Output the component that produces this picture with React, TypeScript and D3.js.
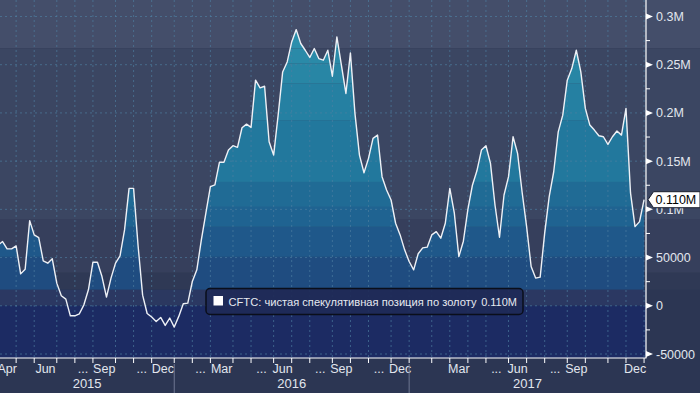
import React from "react";
import * as d3 from "d3";

// weekly CFTC reports (Friday release), net speculative gold position
const firstReport = "2015-04-03";
const netPosition = [
  63000, 66600, 59000, 59000, 62100, 33100, 38000, 88300, 73500, 70700,
  46600, 44200, 48700, 23500, 10400, 6900, -10400, -10400, -8300, 1000,
  16600, 45200, 45200, 30300, 9000, 28700, 44200, 51800, 78700, 121800,
  121800, 62000, 11000, -8000, -11700, -16200, -12100, -20400, -12700, -22100,
  -11000, 2100, 2800, 25200, 37300, 68300, 96000, 123500, 125300, 148800,
  148800, 161500, 166000, 164300, 184600, 188400, 185000, 234000, 226000, 227700,
  170100, 156300, 197700, 242500, 252900, 273600, 286400, 272000, 265000, 257500,
  266800, 256400, 254700, 265000, 238100, 278800, 249500, 220200, 262200, 199500,
  156300, 138000, 152900, 173600, 177000, 133900, 120100, 109700, 85600, 73500,
  58000, 45900, 37300, 54000, 60000, 60800, 73500, 76900, 70100, 85600,
  121800, 96000, 51000, 67000, 100000, 125000, 140000, 161500, 166000, 147700,
  104500, 71100, 114900, 133900, 175300, 158100, 118000, 82100, 40700, 28700,
  29700, 75300, 113200, 139000, 180400, 197700, 234000, 246000, 265000, 242500,
  204700, 187400, 182200, 176300, 175300, 167400, 175300, 181200, 177000, 204700,
  117000, 82100, 87300, 110000,
];

const tickValues = [300000, 250000, 200000, 150000, 100000, 50000, 0, -50000];
const tickLabels = ["0.3M", "0.25M", "0.2M", "0.15M", "0.1M", "50000", "0", "-50000"];

const labelMonths = ["2015-04", "2015-06", "2015-09", "2015-12", "2016-03", "2016-06", "2016-09", "2016-12", "2017-03", "2017-06", "2017-09", "2017-12"];
const labelNames = ["Apr", "Jun", "Sep", "Dec", "Mar", "Jun", "Sep", "Dec", "Mar", "Jun", "Sep", "Dec"];
const labelDots = [false, false, true, true, true, true, true, true, false, true, true, false];
const years = ["2015", "2016", "2017"];

// colour bands by value level (upper edges, then colours)
const fillEdges = [330000, 267000, 251500, 230800, 192500, 128400, 102500, 81800, 50700, 16600, 0, -60000];
const fillColors = ["#2c8fac", "#2a8aa8", "#2886a5", "#2580a2", "#22789d", "#206b95", "#1f6391", "#1f588a", "#1f4c80", "#2b3862", "#1c2b63"];
const backEdges = [330000, 267000, 90000, 34200, 16600, 0, -60000];
const backColors = ["#444e6a", "#3b4662", "#363f5c", "#2f3955", "#2b3860", "#1c2b63"];

const legendText = "CFTC: чистая спекулятивная позиция по золоту";
const lastLabel = "0.110M";

const W = 700;
const H = 393;
const plotRight = 646;
const plotBottom = 358;
const font = "Liberation Sans, Arial, sans-serif";

export default function App() {
  const parse = d3.timeParse("%Y-%m-%d");
  const start = parse(firstReport) as Date;
  const data = netPosition.map((v, i) => ({ date: d3.timeDay.offset(start, 7 * i), value: v }));

  const x = d3.scaleTime().domain([new Date(2015, 3, 6), new Date(2018, 0, 1)]).range([0, plotRight]);
  const y = d3.scaleLinear().domain([-50000, 300000]).range([354, 16.5]);

  // month marks sit on the report week that contains the month start
  const weekOf = (d: Date) => x(d3.timeDay.offset(d3.timeWednesday.floor(d), 2));
  const months = d3.timeMonth.range(new Date(2015, 3, 1), new Date(2018, 0, 2));
  const gridX = months.map(weekOf).filter((v) => v > 0 && v < plotRight);

  const area = d3.area<{ date: Date; value: number }>()
    .x((d) => x(d.date))
    .y0(y(0))
    .y1((d) => y(d.value));
  const line = d3.line<{ date: Date; value: number }>()
    .x((d) => x(d.date))
    .y((d) => y(d.value));

  const b1 = weekOf(new Date(2016, 0, 1));
  const b2 = weekOf(new Date(2017, 0, 1));
  const yearSpans = [[0, b1], [b1, b2], [b2, plotRight]];

  const minor = d3.range(-25000, 300000, 50000);
  const yLast = y(netPosition[netPosition.length - 1]);

  return (
    <svg width={W} height={H} style={{ position: "absolute", left: 0, top: 0, display: "block" }} fontFamily={font}>
      <defs>
        <clipPath id="plot">
          <rect x={0} y={0} width={plotRight} height={plotBottom} />
        </clipPath>
        <clipPath id="areaClip">
          <path d={area(data) || ""} />
        </clipPath>
      </defs>
      <rect x={0} y={0} width={W} height={H} fill="#2c3653" />

      {backColors.map((c, i) => {
        const top = y(backEdges[i]);
        const bot = Math.min(y(backEdges[i + 1]), plotBottom);
        const wide = backEdges[i + 1] >= 16600;
        return <rect key={"b" + i} x={0} y={Math.max(0, top)} width={wide ? W : plotRight} height={bot - Math.max(0, top)} fill={c} />;
      })}

      <g clipPath="url(#plot)">
        <g clipPath="url(#areaClip)">
          {fillColors.map((c, i) => {
            const top = Math.max(0, y(fillEdges[i]));
            const bot = Math.min(y(fillEdges[i + 1]), plotBottom);
            return <rect key={"f" + i} x={0} y={top} width={plotRight} height={bot - top} fill={c} />;
          })}
        </g>

        {gridX.map((gx, i) => (
          <line key={"gx" + i} x1={gx} x2={gx} y1={0} y2={plotBottom} stroke="#4f7fa2" strokeOpacity={0.65} strokeDasharray="2 3" />
        ))}
        {tickValues.map((t, i) => (
          <line key={"gy" + i} x1={0} x2={plotRight} y1={y(t)} y2={y(t)} stroke="#4f7fa2" strokeOpacity={0.65} strokeDasharray="2 3" />
        ))}

        <path d={line(data) || ""} fill="none" stroke="#eef1f6" strokeWidth={1.4} strokeLinejoin="round" />
      </g>

      {/* axes */}
      <line x1={0} x2={plotRight + 0.5} y1={plotBottom} y2={plotBottom} stroke="#ffffff" strokeWidth={1.2} />
      <line x1={plotRight} x2={plotRight} y1={0} y2={plotBottom} stroke="#ffffff" strokeWidth={1.2} />
      {gridX.map((gx, i) => (
        <line key={"tx" + i} x1={gx} x2={gx} y1={plotBottom} y2={plotBottom + 5} stroke="#ffffff" strokeWidth={1} />
      ))}
      {minor.map((t, i) => (
        <line key={"mt" + i} x1={plotRight} x2={plotRight + 4} y1={y(t)} y2={y(t)} stroke="#ffffff" strokeWidth={1} />
      ))}
      {tickValues.map((t, i) => (
        <g key={"yt" + i}>
          <path d={`M${plotRight},${y(t) - 3} L${plotRight + 7},${y(t)} L${plotRight},${y(t) + 3} Z`} fill="#ffffff" />
          <text x={656} y={y(t) + 4.5} fill="#e2e6ee" fontSize={12.5}>{tickLabels[i]}</text>
        </g>
      ))}

      {labelMonths.map((m, i) => {
        const d0 = parse(m + "-01") as Date;
        const c = (weekOf(d0) + weekOf(d3.timeMonth.offset(d0, 1))) / 2;
        return (
          <g key={"ml" + i}>
            <text x={c} y={373} fill="#e2e6ee" fontSize={12.5} textAnchor="middle">{labelNames[i]}</text>
            {labelDots[i] && (
              <text x={c - 16} y={373} fill="#e2e6ee" fontSize={12.5} textAnchor="end">...</text>
            )}
          </g>
        );
      })}
      {[b1, b2].map((b, i) => (
        <line key={"ys" + i} x1={b} x2={b} y1={364} y2={H} stroke="#6e7691" strokeWidth={1} />
      ))}
      {years.map((yr, i) => (
        <text key={yr} x={(yearSpans[i][0] + yearSpans[i][1]) / 2} y={388} fill="#e2e6ee" fontSize={13} textAnchor="middle">{yr}</text>
      ))}

      {/* legend */}
      <rect x={206} y={288.5} width={317} height={26} rx={4} fill="#1e2a57" fillOpacity={0.92} stroke="#0a0e1a" strokeWidth={1.5} />
      <rect x={213.5} y={296} width={9.5} height={9.5} fill="#ffffff" />
      <text x={228.5} y={305.5} fill="#e6e9f0" fontSize={11} textLength={248} lengthAdjust="spacingAndGlyphs">{legendText}</text>
      <text x={517} y={305.5} fill="#e6e9f0" fontSize={11} textAnchor="end">{lastLabel}</text>

      {/* last value flag */}
      <path d={`M648,${yLast} L653.5,${yLast - 8} L700,${yLast - 8} L700,${yLast + 8} L653.5,${yLast + 8} Z`} fill="#ffffff" stroke="#1a1f2e" strokeWidth={1} />
      <text x={655.5} y={yLast + 4.5} fill="#000000" fontSize={12.5}>{lastLabel}</text>
    </svg>
  );
}
